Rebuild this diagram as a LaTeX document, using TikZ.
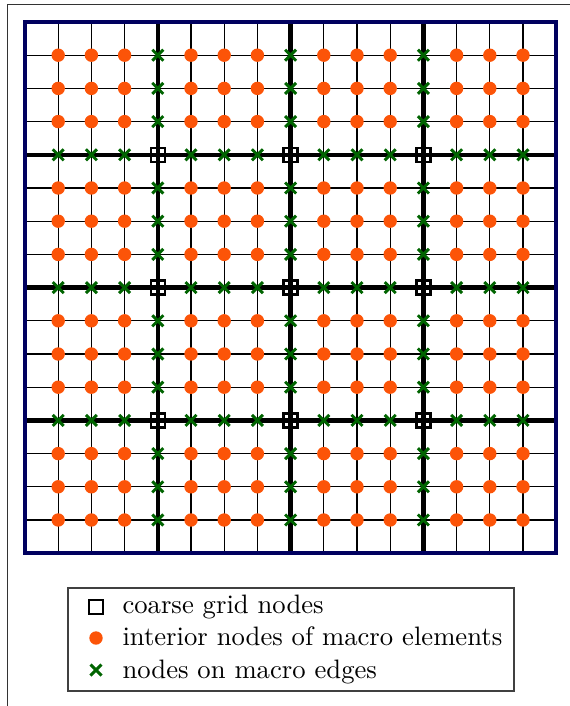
\documentclass[tikz,border=0pt]{standalone}
\definecolor{dotorange}{RGB}{252,84,8}
\definecolor{xgreen}{RGB}{0,100,0}
\definecolor{framenavy}{RGB}{0,0,95}
\begin{document}
\begin{tikzpicture}[x=0.375pt,y=-0.375pt,
  thingrid/.style={black,line width=0.5pt},
  thickgrid/.style={black,line width=1.6pt},
  coarsemark/.style={black,line width=0.95pt},
  edgemark/.style={xgreen,line width=1.1pt},
  dotmark/.style={fill=dotorange,draw=none},
  legtext/.style={anchor=base west,inner sep=0pt,font=\normalsize}]
\useasboundingbox (0,0) rectangle (570,706);
\draw[black!80,line width=0.45pt] (7.5,4.5) rectangle (620,760);
\def\xo{25}\def\yo{22}\def\cs{33.2}
% thin grid
\foreach \k in {1,...,15}{
  \draw[thingrid] ({\xo+\cs*\k},\yo) -- ({\xo+\cs*\k},{\yo+16*\cs});
  \draw[thingrid] (\xo,{\yo+\cs*\k}) -- ({\xo+16*\cs},{\yo+\cs*\k});
}
\foreach \k in {4,8,12}{
  \draw[thickgrid] ({\xo+\cs*\k},\yo) -- ({\xo+\cs*\k},{\yo+16*\cs});
  \draw[thickgrid] (\xo,{\yo+\cs*\k}) -- ({\xo+16*\cs},{\yo+\cs*\k});
}
\draw[framenavy,line width=1.3pt] (\xo,\yo) rectangle ({\xo+16*\cs},{\yo+16*\cs});
% markers
\foreach \i in {1,...,15}{
  \foreach \j in {1,...,15}{
    \pgfmathtruncatemacro\ai{mod(\i,4)==0 ? 1 : 0}
    \pgfmathtruncatemacro\aj{mod(\j,4)==0 ? 1 : 0}
    \pgfmathsetmacro\px{\xo+\cs*\i}
    \pgfmathsetmacro\py{\yo+\cs*\j}
    \pgfmathtruncatemacro\s{\ai+\aj}
    \ifnum\s=2
      \draw[coarsemark] (\px-7,\py-7) rectangle (\px+7,\py+7);
    \else\ifnum\s=1
      \draw[edgemark] (\px-5.5,\py-5.5) -- (\px+5.5,\py+5.5) (\px-5.5,\py+5.5) -- (\px+5.5,\py-5.5);
    \else
      \fill[dotmark] (\px,\py) circle (6.7);
    \fi\fi
  }
}
% legend
\draw[black!75,line width=0.45pt] (68,588) rectangle (514,691);
\draw[coarsemark] (89,600) rectangle (103,614);
\fill[dotmark] (96,638) circle (6.7);
\draw[edgemark] (90.5,664.5) -- (101.5,675.5) (90.5,675.5) -- (101.5,664.5);
\node[legtext] (l1) at (122,613) {coarse grid nodes};
\node[legtext] (l2) at (122,645.5) {interior nodes of macro elements};
\node[legtext] (l3) at (122,678) {nodes on macro edges};
\end{tikzpicture}
\end{document}
